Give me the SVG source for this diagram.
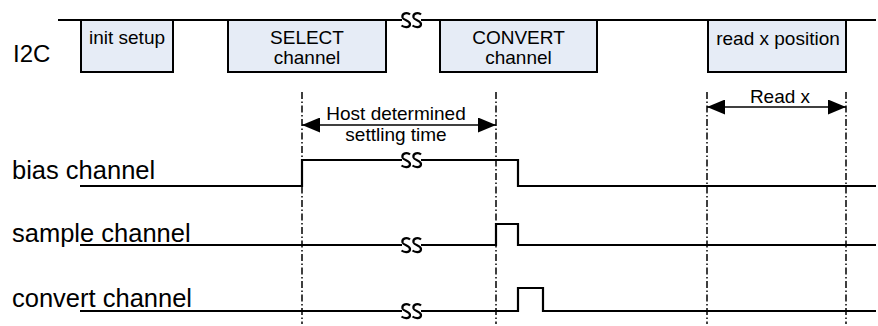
<svg xmlns="http://www.w3.org/2000/svg" xmlns:xlink="http://www.w3.org/1999/xlink" width="878" height="326" viewBox="0 0 878 326">
<style>
  text { font-family: "Liberation Sans", Arial, sans-serif; fill: #000; }
  .lbl { font-size: 25.5px; }
  .i2c { font-size: 24px; }
  .bt { font-size: 19px; text-anchor: middle; }
  .box { fill: #e6ecf6; stroke: #000; stroke-width: 2; }
  .sig { fill: none; stroke: #000; stroke-width: 2.2; stroke-linejoin: miter; }
  .dd { fill: none; stroke: #000; stroke-width: 1.5; stroke-dasharray: 7 2.5 1.5 2.5; }
  .arr { fill: none; stroke: #000; stroke-width: 1.3; marker-start: url(#ah); marker-end: url(#ah); }
</style>
<defs>
  <marker id="ah" markerUnits="userSpaceOnUse" markerWidth="18" markerHeight="15" refX="18" refY="7.5" orient="auto-start-reverse" viewBox="0 0 18 15">
    <path d="M0,0 L18,7.5 L0,15 Z" fill="#000"/>
  </marker>
  <path id="brk" d="M4,-5.5 C1.5,-8 -4.5,-7 -3.5,-2.5 C-2.5,0.5 4.5,0.5 4,4.5 C3.5,8 -2,7.5 -4.5,5.5" fill="none" stroke="#000" stroke-width="2.2"/>
</defs>
<rect width="878" height="326" fill="#fff"/>

<g id="labels">
  <text class="i2c" x="13" y="62">I2C</text>
  <text class="lbl" x="12" y="179">bias channel</text>
  <text class="lbl" x="12" y="242">sample channel</text>
  <text class="lbl" x="12" y="307">convert channel</text>
</g>

<g id="connectors">
  <!-- I2C bus line -->
  <path class="sig" style="stroke-width:2" d="M58,20 H402 M421,20 H876"/>
  <use href="#brk" x="406" y="20"/>
  <use href="#brk" x="417" y="20"/>
  <!-- bias channel -->
  <path class="sig" d="M80,186 H302 V160 H402 M421,160 H518 V186 H876"/>
  <use href="#brk" x="406" y="160"/>
  <use href="#brk" x="417" y="160"/>
  <!-- sample channel -->
  <path class="sig" d="M80,245 H402 M421,245 H496 V224 H518 V245 H876"/>
  <use href="#brk" x="406" y="245"/>
  <use href="#brk" x="417" y="245"/>
  <!-- convert channel -->
  <path class="sig" d="M80,311 H402 M421,311 H518 V288 H543 V311 H876"/>
  <use href="#brk" x="406" y="311"/>
  <use href="#brk" x="417" y="311"/>
  <!-- dash-dot markers -->
  <path class="dd" d="M302,92 V324 M496,92 V324 M707,92 V324 M846,92 V324"/>
  <!-- timing arrows -->
  <line class="arr" x1="302" y1="125" x2="496" y2="125"/>
  <line class="arr" x1="707" y1="107" x2="846" y2="107"/>
  <text class="bt" x="396" y="120">Host determined</text>
  <text class="bt" x="396" y="141">settling time</text>
  <text class="bt" x="780" y="103">Read x</text>
</g>

<g id="init-setup">
  <rect class="box" x="81" y="20" width="92" height="52"/>
  <text class="bt" x="127" y="44">init setup</text>
</g>
<g id="select-channel">
  <rect class="box" x="228" y="20" width="158" height="52"/>
  <text class="bt" x="307" y="44">SELECT</text>
  <text class="bt" x="307" y="64">channel</text>
</g>
<g id="convert-channel">
  <rect class="box" x="440" y="20" width="157" height="52"/>
  <text class="bt" x="518.5" y="44">CONVERT</text>
  <text class="bt" x="518.5" y="64">channel</text>
</g>
<g id="read-x-position">
  <rect class="box" x="708" y="20" width="138" height="52"/>
  <text class="bt" x="778" y="45">read x position</text>
</g>
</svg>
